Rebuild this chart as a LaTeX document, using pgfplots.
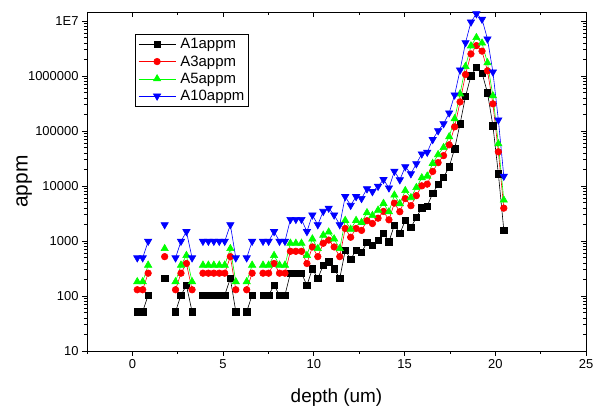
\documentclass[border=0pt]{standalone}
\usepackage{fontspec}
\setmainfont{Liberation Sans}
\usepackage{pgfplots}
\pgfplotsset{compat=1.18}
\usepackage{pgfplotstable}
\pgfplotstableread{
x a1 a3 a5 a10
0.27 52 130 182 494
0.57 52 130 182 494
0.87 104 260 364 988
1.17 nan nan nan nan
1.48 nan nan nan nan
1.78 208 520 728 1976
2.08 nan nan nan nan
2.38 52 130 182 494
2.68 104 260 364 988
2.98 156 390 546 1482
3.29 52 130 182 494
3.59 nan nan nan nan
3.89 104 260 364 988
4.19 104 260 364 988
4.49 104 260 364 988
4.79 104 260 364 988
5.09 104 260 364 988
5.40 208 520 728 1976
5.70 52 130 182 494
6.00 nan nan nan nan
6.30 52 130 182 494
6.60 104 260 364 988
6.90 nan nan nan nan
7.20 104 260 364 988
7.51 104 260 364 988
7.81 156 390 546 1482
8.11 104 260 364 988
8.41 104 260 364 988
8.71 260 650 910 2470
9.01 260 650 910 2470
9.32 260 650 910 2470
9.62 156 390 546 1482
9.92 312 780 1092 2964
10.22 208 520 728 1976
10.52 364 910 1274 3458
10.82 416 1040 1456 3952
11.12 312 780 1092 2964
11.43 208 520 728 1976
11.73 676 1690 2366 6422
12.03 468 1170 1638 4446
12.33 676 1690 2366 6422
12.63 624 1560 2184 5928
12.93 936 2340 3276 8892
13.23 832 2080 2912 7904
13.54 1040 2600 3640 9880
13.84 1380 3450 4830 13110
14.14 971 2428 3399 9225
14.44 1954 4885 6839 18563
14.74 1364 3410 4774 12958
15.04 2360 5900 8260 22420
15.35 1758 4395 6153 16701
15.65 2675 6688 9363 25413
15.95 4030 10075 14105 38285
16.25 4325 10813 15138 41088
16.55 7360 18400 25760 69920
16.85 10640 26600 37240 101080
17.15 14280 35700 49980 135660
17.46 22450 56125 78575 213275
17.76 47660 119150 166810 452770
18.06 135300 338250 473550 1285350
18.36 425800 1064500 1490300 4045100
18.66 1009000 2522500 3531500 9585500
18.96 1429000 3572500 5001500 13575500
19.27 1135000 2837500 3972500 10782500
19.57 497000 1242500 1739500 4721500
19.87 124700 311750 436450 1184650
20.17 16750 41875 58625 159125
20.47 1585 3963 5548 15058
}\data
\definecolor{ored}{RGB}{255,0,0}
\definecolor{ogreen}{RGB}{0,255,0}
\definecolor{oblue}{RGB}{0,0,255}
\begin{document}
\begin{tikzpicture}
\path[use as bounding box] (-87bp,-56bp) rectangle (508bp,351bp);
\begin{axis}[
    at={(0,0)}, anchor=south west,
    scale only axis, width=499bp, height=339bp,
    ymode=log, xmin=-2.5, xmax=25, ymin=10, ymax=1.46e7,
    xtick={0,5,10,15,20,25},
    minor xtick={-2.5,2.5,7.5,12.5,17.5,22.5},
    ytick={10,100,1000,10000,100000,1000000,10000000},
    minor ytick={20,30,40,50,60,70,80,90,200,300,400,500,600,700,800,900,2000,3000,4000,5000,6000,7000,8000,9000,2e4,3e4,4e4,5e4,6e4,7e4,8e4,9e4,2e5,3e5,4e5,5e5,6e5,7e5,8e5,9e5,2e6,3e6,4e6,5e6,6e6,7e6,8e6,9e6},
    major tick length=5bp, minor tick length=3bp,
    every tick/.style={black, line width=0.7bp},
    axis line style={black, line width=0.9bp},
    xtick pos=right, ytick pos=right, tick align=inside,
    xticklabels={}, yticklabels={}]
\addplot[draw=none, mark=none] coordinates {(0,100) (1,100)};
\end{axis}
\begin{axis}[
    at={(0,0)}, anchor=south west,
    scale only axis, width=499bp, height=339bp,
    ymode=log, xmin=-2.5, xmax=25, ymin=10, ymax=1.46e7,
    xtick={0,5,10,15,20,25},
    minor xtick={-2.5,2.5,7.5,12.5,17.5,22.5},
    ytick={10,100,1000,10000,100000,1000000,10000000},
    minor ytick={20,30,40,50,60,70,80,90,200,300,400,500,600,700,800,900,2000,3000,4000,5000,6000,7000,8000,9000,2e4,3e4,4e4,5e4,6e4,7e4,8e4,9e4,2e5,3e5,4e5,5e5,6e5,7e5,8e5,9e5,2e6,3e6,4e6,5e6,6e6,7e6,8e6,9e6},
    major tick length=5bp, minor tick length=3bp,
    every tick/.style={black, line width=0.7bp},
    axis line style={black, line width=0.9bp},
  xtick pos=left, ytick pos=left, tick align=outside,
  xticklabels={0,5,10,15,20,25},
  yticklabels={10,100,1000,10000,100000,1000000,1E7},
  tick label style={font=\fontsize{13}{15}\selectfont},
  every axis x label/.style={at={(axis description cs:0.5,-0.136)}, anchor=center, font=\fontsize{19}{22}\selectfont},
  every axis y label/.style={at={(axis description cs:-0.126,0.5)}, rotate=90, anchor=center, font=\fontsize{21}{24}\selectfont},
  xlabel={depth (um)}, ylabel={appm},
  unbounded coords=jump, clip=false,
  legend style={at={(axis description cs:0.096,0.935)}, anchor=north west,
    draw=black, line width=0.8bp, font=\fontsize{15}{17}\selectfont,
    inner xsep=3bp, inner ysep=2.5bp, row sep=2.4bp, column sep=3bp,
    nodes={inner sep=1.5bp}},
  legend cell align=left,
  legend image code/.code={\draw[mark repeat=2,mark phase=2] plot coordinates {(0bp,0bp) (18.5bp,0bp) (37bp,0bp)};},
]
\addplot[black, line width=0.6bp, mark=square*, mark size=3.2bp, mark options={solid}] table[x=x,y=a1] {\data};
\addlegendentry{A1appm}
\addplot[ored, line width=0.6bp, mark=*, mark size=3.3bp, mark options={solid}] table[x=x,y=a3] {\data};
\addlegendentry{A3appm}
\addplot[ogreen, line width=0.6bp, mark=triangle*, mark size=4.2bp, mark options={solid}] table[x=x,y=a5] {\data};
\addlegendentry{A5appm}
\addplot[oblue, line width=0.6bp, mark=triangle*, mark size=4.2bp, mark options={solid, rotate=180}] table[x=x,y=a10] {\data};
\addlegendentry{A10appm}
\end{axis}
\end{tikzpicture}
\end{document}
